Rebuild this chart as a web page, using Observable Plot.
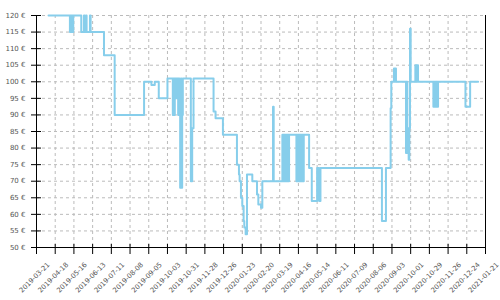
<!DOCTYPE html>
<html><head><meta charset="utf-8">
<script src="https://cdn.jsdelivr.net/npm/d3@7"></script>
<script src="https://cdn.jsdelivr.net/npm/@observablehq/plot@0.6"></script>
<style>body{margin:0;background:#fff}</style>
</head><body><div id="chart"></div>
<script>
const dates = [
"2019-04-08","2019-05-10","2019-05-11","2019-05-12","2019-05-13","2019-05-14","2019-05-15",
"2019-05-27","2019-05-31","2019-06-01","2019-06-03","2019-06-04","2019-06-09","2019-06-10",
"2019-06-30","2019-07-16","2019-08-29","2019-09-09","2019-09-14","2019-09-20","2019-10-03",
"2019-10-11","2019-10-12","2019-10-13","2019-10-14","2019-10-15","2019-10-16","2019-10-17",
"2019-10-18","2019-10-19","2019-10-20","2019-10-21","2019-10-22","2019-10-23","2019-10-24",
"2019-10-25","2019-10-26","2019-11-07","2019-11-09","2019-11-11","2019-12-11","2019-12-14",
"2019-12-25","2020-01-15","2020-01-18","2020-01-19","2020-01-21","2020-01-23","2020-01-25",
"2020-01-26","2020-01-28","2020-01-30","2020-02-07","2020-02-14","2020-02-16","2020-02-20",
"2020-02-22","2020-03-09","2020-03-10",
"2020-03-23","2020-03-24","2020-03-25","2020-03-26","2020-03-27","2020-03-28","2020-03-29",
"2020-03-30","2020-03-31","2020-04-01","2020-04-02",
"2020-04-13","2020-04-14","2020-04-15","2020-04-16","2020-04-17","2020-04-18","2020-04-19",
"2020-04-20","2020-04-21","2020-04-22","2020-04-23","2020-04-24",
"2020-05-02","2020-05-06","2020-05-14","2020-05-17","2020-05-19","2020-08-19","2020-08-25",
"2020-09-01","2020-09-02","2020-09-06","2020-09-07","2020-09-08","2020-09-09",
"2020-09-24","2020-09-25","2020-09-26","2020-09-27","2020-09-28","2020-09-29","2020-09-30",
"2020-10-01","2020-10-08","2020-10-09","2020-10-10","2020-10-12",
"2020-11-04","2020-11-05","2020-11-06","2020-11-07","2020-11-08","2020-11-09","2020-11-10",
"2020-11-11","2020-12-22","2020-12-29","2021-01-10"
];
const prices = [
120,115,120,115,120,115,120,
115,120,115,120,115,120,115,
108,90,100,99,100,95,101,
90,101,90,101,95,101,95,
101,90,101,90,68,101,68,
90,101,70,86,101,91,89,
84,75,72,70,65,62.5,58,
56,54,72,70,66,63,62,
70,92.5,70,
84,70,84,70,84,70,84,
70,84,70,84,
70,84,70,84,70,84,70,
84,70,84,70,84,
74,64,74,64,74,58,74,
92,100,104,100,104,100,
78.5,100,78.5,86,76.5,86,116,
100,105,100,105,100,
92.5,100,92.5,100,92.5,100,92.5,
100,92.5,100,100
];
const xTickLabels = ["2019-03-21","2019-04-18","2019-05-16","2019-06-13","2019-07-11","2019-08-08",
"2019-09-05","2019-10-03","2019-10-31","2019-11-28","2019-12-26","2020-01-23","2020-02-20",
"2020-03-19","2020-04-16","2020-05-14","2020-06-11","2020-07-09","2020-08-06","2020-09-03",
"2020-10-01","2020-10-29","2020-11-26","2020-12-24","2021-01-21"];
const yTicks = [50,55,60,65,70,75,80,85,90,95,100,105,110,115,120];

const data = dates.map((d, i) => ({date: new Date(d), price: prices[i]}));
const xTicks = xTickLabels.map(d => new Date(d));
const xMin = xTicks[0], xMax = xTicks[xTicks.length - 1];
const font = "DejaVu Sans";

const chart = Plot.plot({
  width: 500, height: 300,
  marginLeft: 36, marginRight: 15, marginTop: 15, marginBottom: 53,
  style: {fontFamily: font, fontSize: "7px", color: "black", background: "white"},
  x: {type: "utc", domain: [xMin, xMax]},
  y: {domain: [50, 120]},
  marks: [
    Plot.gridX({ticks: xTicks, stroke: "#bbb", strokeOpacity: 1, strokeDasharray: "3,3"}),
    Plot.gridY({ticks: yTicks, stroke: "#bbb", strokeOpacity: 1, strokeDasharray: "3,3"}),
    Plot.line(data, {x: "date", y: "price", curve: "step-after", stroke: "#87ceeb", strokeWidth: 2}),
    Plot.ruleX([xMin, xMax], {stroke: "black"}),
    Plot.ruleY([50], {stroke: "black"}),
    Plot.axisY({ticks: yTicks, tickSize: 10, dx: 5, tickPadding: 6, tickFormat: d => `${d} €`, label: null, stroke: "black", fill: "#555"}),
    Plot.axisX({ticks: xTicks, tickSize: 10, dy: -3, tickFormat: () => "", label: null, stroke: "black"}),
    Plot.text(xTicks, {x: d => d, frameAnchor: "bottom", dx: -2, dy: 30, rotate: -45, text: (d, i) => xTickLabels[i], textAnchor: "middle", lineAnchor: "middle", fill: "#555", fontSize: 6.8})
  ]
});
document.getElementById("chart").appendChild(chart);
</script>
</body></html>
